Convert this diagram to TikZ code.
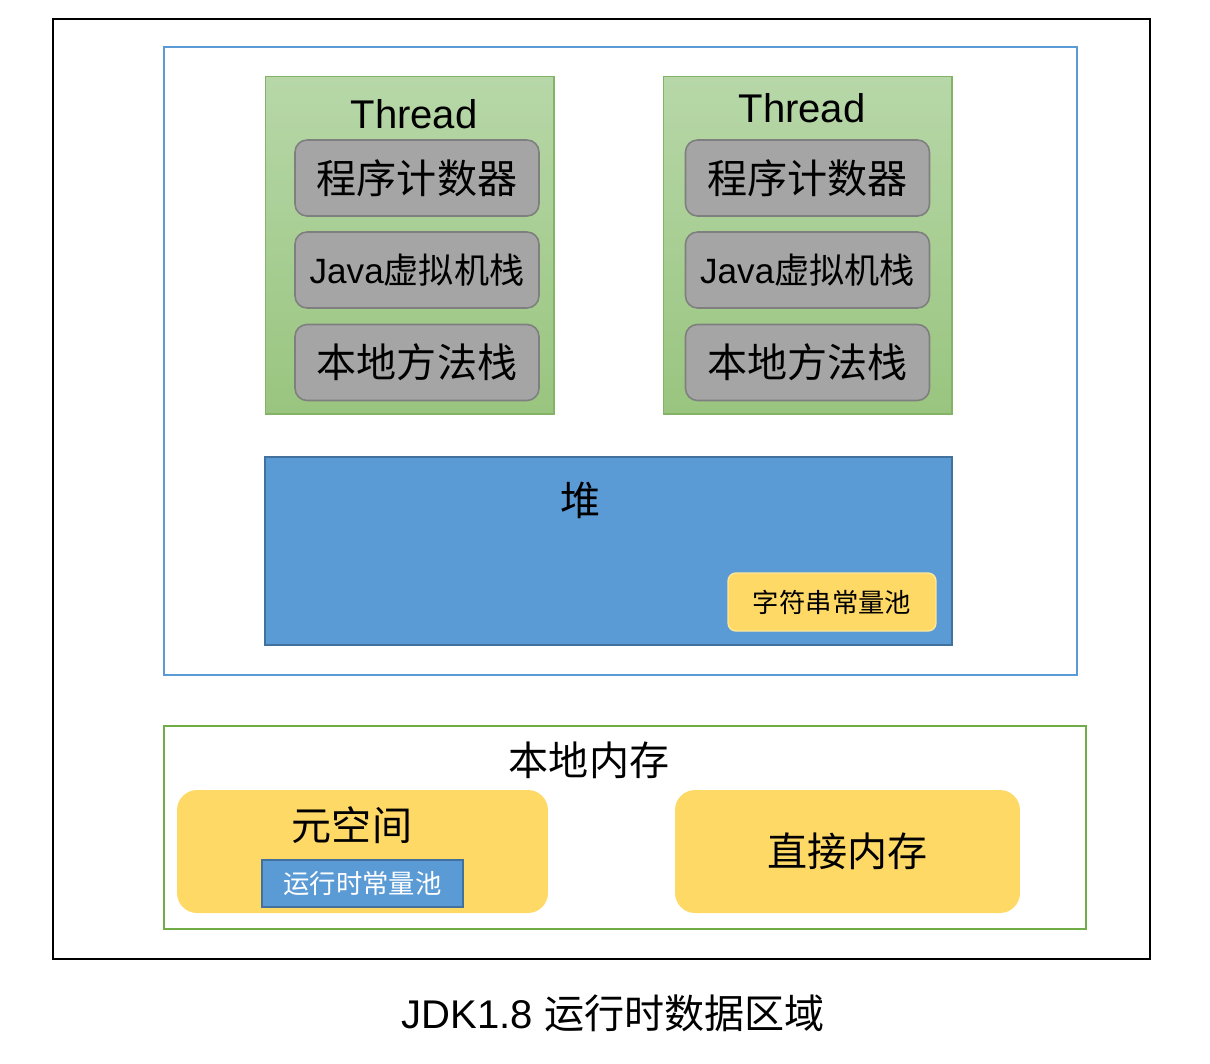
\documentclass[tikz,border=0pt]{standalone}
\usepackage{fontspec}
\setmainfont{Liberation Sans}
\newfontfamily\cjk{Noto Sans CJK SC}
\usetikzlibrary{positioning}
\definecolor{jvmblue}{RGB}{91,155,213}
\definecolor{heapedge}{RGB}{65,113,156}
\definecolor{poolyellow}{RGB}{255,217,102}
\definecolor{pooledge}{RGB}{255,230,153}
\definecolor{thrtop}{RGB}{183,215,168}
\definecolor{thrbot}{RGB}{153,197,127}
\definecolor{thredge}{RGB}{130,179,102}
\definecolor{memedge}{RGB}{112,173,71}
\definecolor{grayfill}{RGB}{165,165,165}
\definecolor{grayedge}{RGB}{127,127,127}
\newcommand{\fsL}{\fontsize{22.8}{26}\selectfont}
\newcommand{\fsT}{\fontsize{22.8}{26}\selectfont}
\newcommand{\fsS}{\fontsize{15}{18}\selectfont}
\tikzset{
  threadbox/.style={draw=thredge, line width=0.6pt, top color=thrtop, bottom color=thrbot,
    minimum width=5.78cm, minimum height=6.76cm, inner sep=0pt},
  graybox/.style={draw=grayedge, line width=0.9pt, fill=grayfill, rounded corners=0.24cm,
    minimum width=4.88cm, minimum height=1.52cm, inner sep=0pt, font=\fsL\cjk},
  yellowbox/.style={fill=poolyellow, rounded corners=0.4cm, minimum width=7.42cm,
    minimum height=2.46cm, inner sep=0pt},
  label/.style={inner sep=0pt, font=\fsL\cjk}
}
\begin{document}
\begin{tikzpicture}[x=0.02cm, y=-0.02cm, node distance=1.84cm]
  \useasboundingbox (0,0) rectangle (1210,1063);
  % outer frame and runtime area
  \node (outer) [draw=black, line width=1.2pt, minimum width=21.94cm, minimum height=18.8cm] at (601.5,489) {};
  \node (jvm) [draw=jvmblue, line width=1pt, minimum width=18.26cm, minimum height=12.56cm] at (620.5,361) {};
  % threads
  \node (TA) [threadbox] at (409.5,245) {};
  \node (TB) [threadbox] at (807.5,245) {};
  \node (TAl) [inner sep=0pt, font=\fsT] at (414,114) {Thread};
  \node (TBl) [inner sep=0pt, font=\fsT] at (802,108) {Thread};
  \node (A1) [graybox] at (417,178) {程序计数器};
  \node (A2) [graybox, below of=A1] {\fontsize{20}{24}\selectfont\rmfamily Java{\cjk 虚拟机栈}};
  \node (A3) [graybox, below of=A2, yshift=-0.01cm] {本地方法栈};
  \node (B1) [graybox] at (807.5,178) {程序计数器};
  \node (B2) [graybox, below of=B1] {\fontsize{20}{24}\selectfont\rmfamily Java{\cjk 虚拟机栈}};
  \node (B3) [graybox, below of=B2, yshift=-0.01cm] {本地方法栈};
  % heap
  \node (heap) [draw=heapedge, line width=0.8pt, fill=jvmblue, minimum width=13.74cm, minimum height=3.76cm] at (608.5,551) {};
  \node (heapl) [label] at (581,500) {堆};
  \node (spool) [draw=pooledge, line width=0.8pt, fill=poolyellow, rounded corners=0.16cm,
    minimum width=4.16cm, minimum height=1.16cm, font=\fsS\cjk] at (832,602) {字符串常量池};
  % native memory
  \node (native) [draw=memedge, line width=1pt, minimum width=18.44cm, minimum height=4.06cm] at (625,827.5) {};
  \node (nativel) [label] at (589,760) {本地内存};
  \node (meta) [yellowbox] at (362.5,851.5) {};
  \node (metal) [label] at (352,825) {元空间};
  \node (rtpool) [draw=heapedge, line width=0.8pt, fill=jvmblue, text=white, minimum width=4.02cm,
    minimum height=0.94cm, inner sep=0pt, font=\fsS\cjk] at (362.5,883.5) {运行时常量池};
  \node (direct) [yellowbox, minimum width=6.9cm, font=\fsL\cjk] at (847.5,851.5)
    {\raisebox{-0.1cm}{直接内存}\hspace{0.16cm}};
  % caption
  \node (cap) [inner sep=0pt, font=\fsL] at (613,1013) {JDK1.8 {\cjk 运行时数据区域}};
\end{tikzpicture}
\end{document}
